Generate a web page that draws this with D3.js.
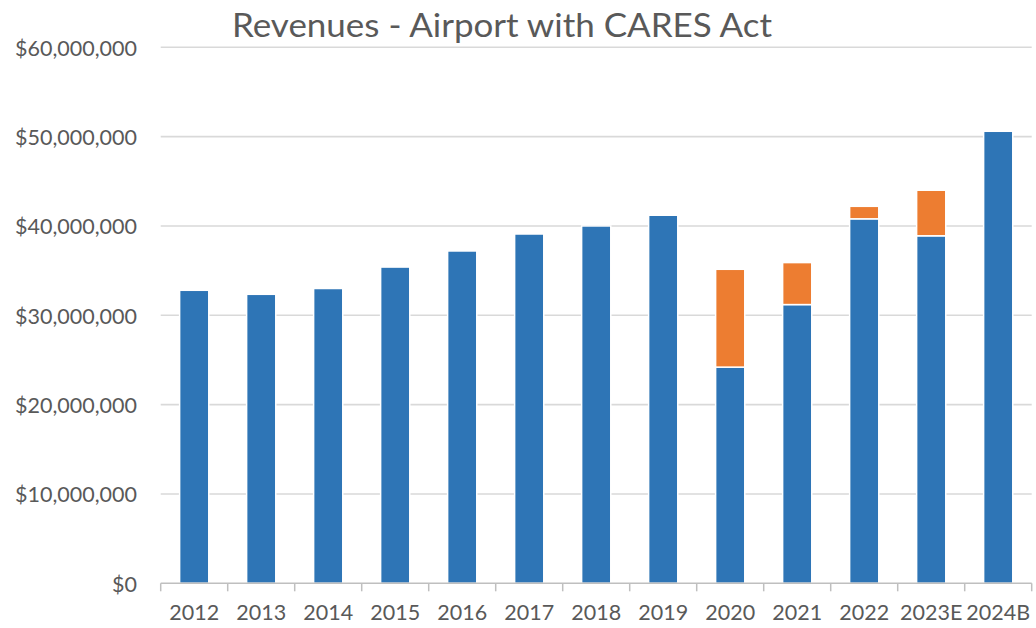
<!DOCTYPE html>
<html>
<head>
<meta charset="utf-8">
<script src="https://cdn.jsdelivr.net/npm/d3@7"></script>
<style>
  html, body { margin: 0; padding: 0; background: #fff; }
  svg { display: block; }
</style>
</head>
<body>
<svg id="chart" width="1036" height="628"></svg>
<script>
const categories = ["2012","2013","2014","2015","2016","2017","2018","2019","2020","2021","2022","2023E","2024B"];
const revenues   = [32.8e6, 32.35e6, 33.0e6, 35.4e6, 37.2e6, 39.1e6, 40.0e6, 41.2e6, 24.2e6, 31.2e6, 40.8e6, 38.9e6, 50.6e6];
const caresAct   = [0, 0, 0, 0, 0, 0, 0, 0, 10.95e6, 4.7e6, 1.4e6, 5.1e6, 0];
const yTicks     = [0, 10e6, 20e6, 30e6, 40e6, 50e6, 60e6];
const title      = "Revenues - Airport with CARES Act";

(function () {
const svg = d3.select("#chart");
const pLeft = 160.7, pRight = 1031.7, pTop = 47.3, pBottom = 583.3;
const font = "Lato, 'Open Sans', sans-serif";
const textColor = "#595959";

const x = d3.scaleBand().domain(categories).range([pLeft, pRight])
  .paddingInner(0.565).paddingOuter(0.2825);
const y = d3.scaleLinear().domain([0, 60e6]).range([pBottom, pTop]);

// gridlines
svg.append("g").selectAll("line").data(yTicks.filter(d => d > 0)).join("line")
  .attr("x1", pLeft).attr("x2", pRight)
  .attr("y1", d => y(d)).attr("y2", d => y(d))
  .attr("stroke", "#d9d9d9").attr("stroke-width", 1.6);

// y axis labels
const fmt = d3.format("$,.0f");
const yAxis = d3.axisLeft(y).tickValues(yTicks).tickSize(0).tickPadding(0)
  .tickFormat(d => fmt(d));
const gy = svg.append("g").attr("transform", `translate(${137},0)`).call(yAxis);
gy.select(".domain").remove();
gy.selectAll("text").attr("font-family", font).attr("font-size", 21.5)
  .attr("fill", textColor).attr("dy", "0.36em");

// bars
const stackData = categories.map((c, i) => ({ cat: c, rev: revenues[i], cares: caresAct[i] }));
const stacked = d3.stack().keys(["rev", "cares"])(stackData);
const colors = { rev: "#2E75B6", cares: "#ED7D31" };

svg.append("g").selectAll("g").data(stacked).join("g")
  .attr("fill", d => colors[d.key])
  .selectAll("rect").data(d => d.filter(p => p[1] - p[0] > 0)).join("rect")
  .attr("x", d => x(d.data.cat))
  .attr("width", x.bandwidth())
  .attr("y", d => y(d[1]))
  .attr("height", d => y(d[0]) - y(d[1]))
  .attr("stroke", "#ffffff").attr("stroke-width", 1.5);

// x axis
const xAxis = d3.axisBottom(x).tickSize(0).tickPadding(0);
const gx = svg.append("g").attr("transform", `translate(0,${pBottom})`).call(xAxis);
gx.select(".domain").remove();
gx.selectAll("text").attr("font-family", font).attr("font-size", 21.5)
  .attr("fill", textColor).attr("y", 36.5).attr("dy", 0);

// axis line and boundary ticks
svg.append("line").attr("x1", pLeft).attr("x2", pRight)
  .attr("y1", pBottom).attr("y2", pBottom)
  .attr("stroke", "#bfbfbf").attr("stroke-width", 1.5);
const bounds = categories.map(c => x(c) - x.step() * x.paddingInner() / 2)
  .concat([pRight]);
svg.append("g").selectAll("line").data(bounds).join("line")
  .attr("x1", d => d).attr("x2", d => d)
  .attr("y1", pBottom).attr("y2", pBottom + 8)
  .attr("stroke", "#bfbfbf").attr("stroke-width", 1.5);

// title
svg.append("text").attr("x", 232).attr("y", 37)
  .attr("font-family", font).attr("font-size", 32)
  .attr("fill", textColor)
  .attr("textLength", 540).attr("lengthAdjust", "spacingAndGlyphs")
  .text(title);
})();
</script>
</body>
</html>
